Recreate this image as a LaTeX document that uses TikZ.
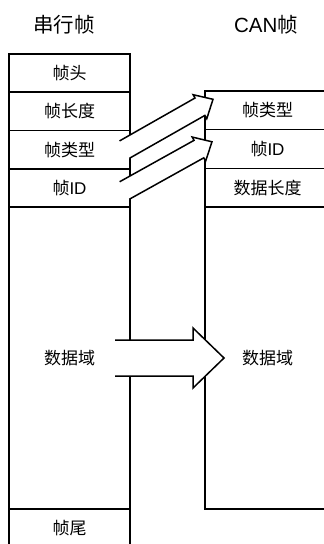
\documentclass[tikz,border=0pt]{standalone}
\usepackage{fontspec}
\setmainfont{Liberation Sans}
\newfontfamily\cjk{Noto Sans CJK SC}
\usepackage{tikz}
\usetikzlibrary{calc}
\tikzset{
  cell/.style={draw, line width=1.6pt, inner sep=0pt, outer sep=0pt,
               font=\fontsize{17}{20}\selectfont\cjk},
  lcell/.style={cell, minimum width=121pt},
  rcell/.style={cell, minimum width=125pt},
  title/.style={font=\fontsize{20.5}{24}\selectfont\cjk},
  fatline/.style={line width=1.5pt}
}
\newcommand{\fatarrow}[5]{%
  \coordinate (neck) at ($(#2)!#5!(#1)$);
  \coordinate (ta) at ($(#1)!#3!90:(#2)$);
  \coordinate (tb) at ($(#1)!#3!-90:(#2)$);
  \coordinate (na) at ($(neck)!#3!90:(#2)$);
  \coordinate (nb) at ($(neck)!#3!-90:(#2)$);
  \coordinate (ba) at ($(neck)!#4!90:(#2)$);
  \coordinate (bb) at ($(neck)!#4!-90:(#2)$);
  \fill[white] (ta) -- (na) -- (ba) -- (#2) -- (bb) -- (nb) -- (tb) -- cycle;
  \draw[fatline] (ta) -- (na) -- (ba) -- (#2) -- (bb) -- (nb) -- (tb);
}

\begin{document}
\begin{tikzpicture}[x=1pt, y=-1pt]%
      \useasboundingbox (0,0) rectangle (324,544);
      \clip (0,0) rectangle (324,544);
      \node[title] (ltitle) at (64,25) {串行帧};
      \node[title] (rtitle) at (266,25) {{\rmfamily CAN}帧};
      \node[lcell, minimum height=38.25pt] (lhead) at (69.5,73.1) {帧头};
      \node[lcell, minimum height=38.25pt] (llen)  at (69.5,111.4) {帧长度};
      \node[lcell, minimum height=38.25pt] (ltype) at (69.5,149.6) {帧类型};
      \node[lcell, minimum height=38.25pt] (lid)   at (69.5,187.9) {帧{\rmfamily ID}};
      \node[lcell, minimum height=302pt]   (ldata) at (69.5,358) {数据域};
      \node[lcell, minimum height=38pt]    (ltail) at (69.5,528) {帧尾};
      \node[rcell, minimum height=38.67pt] (rtype) at (267.5,110.3) {帧类型};
      \node[rcell, minimum height=38.67pt] (rid)   at (267.5,149) {帧{\rmfamily ID}};
      \node[rcell, minimum height=38.67pt] (rlen)  at (267.5,187.7) {数据长度};
      \node[rcell, minimum height=302pt]   (rdata) at (267.5,358) {数据域};
      \coordinate (type tail) at ($(ltype.east)+(-5.5,0)$);
      \coordinate (type tip)  at ($(rtype.west)+(8,-11)$);
      \coordinate (id tail)   at ($(lid.east)+(-5.5,2.6)$);
      \coordinate (id tip)    at ($(rid.west)+(7,-7.2)$);
      \coordinate (data tail) at ($(ldata.east)+(-15,0)$);
      \coordinate (data tip)  at ($(rdata.west)+(19,0)$);
      \fatarrow{type tail}{type tip}{10pt}{13.8pt}{15pt}
      \fatarrow{id tail}{id tip}{10pt}{13.8pt}{15pt}
      \fatarrow{data tail}{data tip}{18pt}{30pt}{31pt}
    \end{tikzpicture}
\end{document}
